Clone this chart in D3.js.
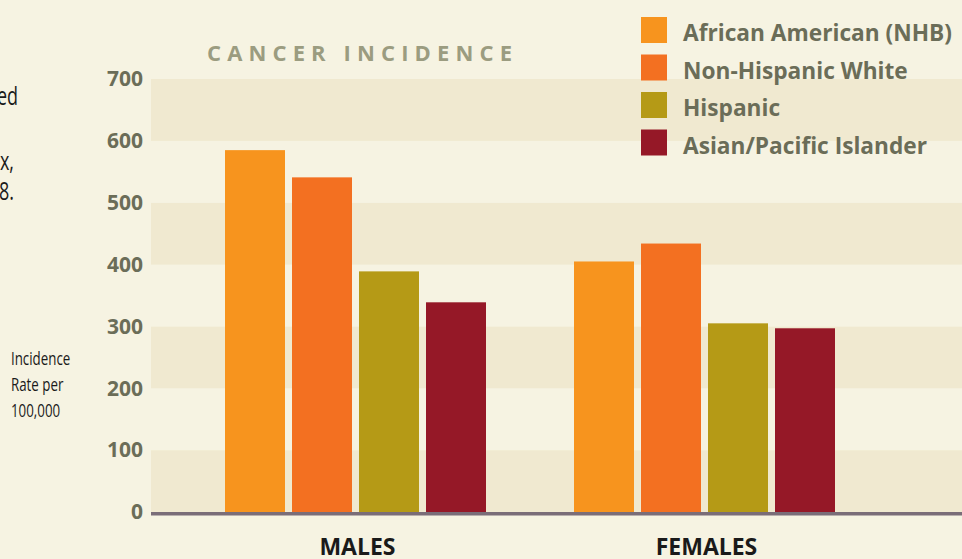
<!DOCTYPE html>
<html>
<head>
<meta charset="utf-8">
<script src="https://cdn.jsdelivr.net/npm/d3@7"></script>
<style>
  html, body { margin: 0; padding: 0; background: #f6f3e2; }
  svg { display: block; }
</style>
</head>
<body>
<svg id="chart" width="962" height="559"></svg>
<script>
// ---- data ----
const groups = ["MALES", "FEMALES"];
const seriesNames = ["African American (NHB)", "Non-Hispanic White", "Hispanic", "Asian/Pacific Islander"];
const malesValues = [585, 541, 389, 339];
const femalesValues = [405, 434, 305, 297];
const yTicks = [0, 100, 200, 300, 400, 500, 600, 700];
const seriesColors = ["#f7941e", "#f37021", "#b59a16", "#951827"];
const leftFragments = ["ed", "x,", "8."];
const yAxisTitle = ["Incidence", "Rate per", "100,000"];
const chartTitle = "CANCER INCIDENCE";

const valuesByGroup = { "MALES": malesValues, "FEMALES": femalesValues };

const svg = d3.select("#chart");
const W = 962, H = 559;

svg.append("rect").attr("width", W).attr("height", H).attr("fill", "#f6f3e2");

const plotLeft = 151, plotRight = 962;
const y = d3.scaleLinear().domain([0, 700]).range([512, 79]);

// alternating bands
const bandStarts = d3.range(0, 700, 100);
svg.append("g").selectAll("rect").data(bandStarts).join("rect")
  .attr("x", plotLeft)
  .attr("width", plotRight - plotLeft)
  .attr("y", d => y(d + 100))
  .attr("height", d => y(d) - y(d + 100))
  .attr("fill", d => (d / 100) % 2 === 0 ? "#f0e9d0" : "#f6f3e2");

// scales for bars
const x0 = d3.scaleBand().domain(groups).range([181, 879]).padding(0);
const innerW = 261;
const x1 = d3.scaleBand().domain(seriesNames)
  .range([(x0.bandwidth() - innerW) / 2, (x0.bandwidth() + innerW) / 2])
  .paddingInner(7 / 67).paddingOuter(0);
const color = d3.scaleOrdinal().domain(seriesNames).range(seriesColors);

const gGroups = svg.append("g").selectAll("g").data(groups).join("g")
  .attr("transform", d => `translate(${x0(d)},0)`);
gGroups.selectAll("rect")
  .data(g => seriesNames.map((s, i) => ({ s, v: valuesByGroup[g][i] })))
  .join("rect")
  .attr("x", d => x1(d.s))
  .attr("width", x1.bandwidth())
  .attr("y", d => y(d.v))
  .attr("height", d => y(0) - y(d.v))
  .attr("fill", d => color(d.s));

// baseline
svg.append("line")
  .attr("x1", plotLeft).attr("x2", plotRight)
  .attr("y1", y(0) + 1.75).attr("y2", y(0) + 1.75)
  .attr("stroke", "#7a6d78").attr("stroke-width", 3.5);

// y axis labels
const yAxis = d3.axisLeft(y).tickValues(yTicks).tickSize(0).tickPadding(0);
const gy = svg.append("g").attr("transform", "translate(143,0)").call(yAxis);
gy.select(".domain").remove();
gy.selectAll("text")
  .attr("font-family", "'Open Sans', sans-serif")
  .attr("font-weight", "bold")
  .attr("font-size", 21)
  .attr("fill", "#6b6d58");

// group labels
svg.append("g").selectAll("text").data(groups).join("text")
  .attr("x", d => x0(d) + x0.bandwidth() / 2 + 2)
  .attr("y", 555)
  .attr("text-anchor", "middle")
  .attr("font-family", "'Open Sans', sans-serif")
  .attr("font-weight", "bold")
  .attr("font-size", 23)
  .attr("fill", "#1a1a1a")
  .text(d => d);

// title
svg.append("text")
  .attr("x", 207).attr("y", 61)
  .attr("font-family", "'Open Sans', sans-serif")
  .attr("font-weight", "bold")
  .attr("font-size", 22)
  .attr("fill", "#9b9c80")
  .attr("textLength", 305)
  .attr("lengthAdjust", "spacing")
  .text(chartTitle);

// legend
const legend = svg.append("g").selectAll("g").data(seriesNames).join("g")
  .attr("transform", (d, i) => `translate(641,${17 + i * 37.5})`);
legend.append("rect").attr("width", 26).attr("height", 26).attr("fill", d => color(d));
legend.append("text")
  .attr("x", 42).attr("y", 24)
  .attr("font-family", "'Open Sans', sans-serif")
  .attr("font-weight", "bold")
  .attr("font-size", 22.7)
  .attr("fill", "#6b6d58")
  .text(d => d);

// left fragments (clipped text from neighbouring panel)
const sx = 0.72;
const fragY = [105, 170, 200];
const fragX = [18, 14, 14];
svg.append("g").attr("transform", `scale(${sx},1)`)
  .selectAll("text").data(leftFragments).join("text")
  .attr("x", (d, i) => fragX[i] / sx).attr("y", (d, i) => fragY[i])
  .attr("text-anchor", "end")
  .attr("font-family", "'Open Sans', sans-serif")
  .attr("font-size", 25)
  .attr("fill", "#1a1a1a")
  .text(d => d);

// y axis title
svg.append("g").attr("transform", `scale(${sx},1)`)
  .selectAll("text").data(yAxisTitle).join("text")
  .attr("x", 11 / sx).attr("y", (d, i) => 365 + i * 26)
  .attr("font-family", "'Open Sans', sans-serif")
  .attr("font-size", 18.5)
  .attr("fill", "#1a1a1a")
  .text(d => d);
</script>
</body>
</html>
